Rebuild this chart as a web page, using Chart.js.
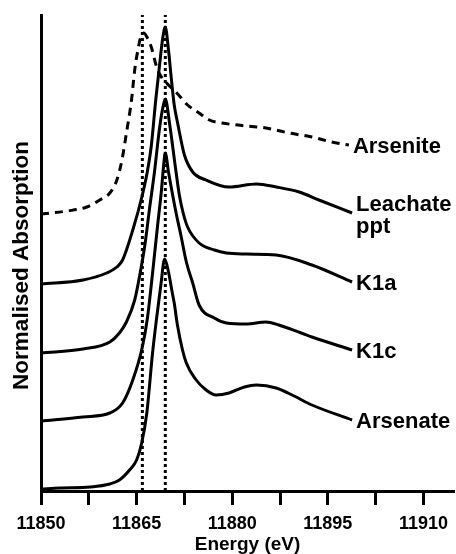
<!DOCTYPE html>
<html>
<head>
<meta charset="utf-8">
<script src="https://cdn.jsdelivr.net/npm/chart.js@4.4.1/dist/chart.umd.min.js"></script>
<style>
  html, body { margin: 0; padding: 0; background: #fff; }
  canvas { display: block; }
</style>
</head>
<body>
<canvas id="xanes" width="456" height="554"></canvas>
<script>
// As K-edge XANES, spectra stacked with an offset (arbitrary normalised units)
const arseniteE = [11850.0, 11854.1, 11857.2, 11859.2, 11860.8, 11861.9, 11862.7, 11863.4, 11864.2, 11864.7, 11865.2, 11865.6, 11866.1, 11866.7, 11867.3, 11868.0, 11868.6, 11869.7, 11871.3, 11873.0, 11874.8, 11876.4, 11878.4, 11882.2, 11885.3, 11888.9, 11892.5, 11895.6, 11898.3];
const arseniteA = [2.77, 2.80, 2.84, 2.91, 2.98, 3.11, 3.31, 3.58, 3.91, 4.21, 4.41, 4.53, 4.58, 4.53, 4.44, 4.27, 4.17, 4.08, 3.98, 3.86, 3.78, 3.71, 3.68, 3.65, 3.63, 3.58, 3.54, 3.49, 3.46];

const leachateE = [11850.0, 11856.6, 11860.3, 11861.9, 11862.8, 11864.4, 11865.9, 11866.7, 11867.3, 11868.0, 11868.6, 11869.1, 11869.5, 11870.0, 11870.5, 11870.9, 11871.4, 11872.5, 11873.8, 11875.9, 11879.5, 11883.8, 11886.9, 11890.5, 11893.6, 11898.8];
const leachateA = [2.07, 2.11, 2.18, 2.24, 2.31, 2.61, 2.96, 3.20, 3.45, 3.91, 4.26, 4.53, 4.64, 4.41, 4.09, 3.86, 3.69, 3.36, 3.19, 3.11, 3.04, 3.07, 3.04, 2.99, 2.91, 2.78];

const k1aE = [11850.0, 11856.6, 11860.8, 11862.3, 11863.4, 11864.7, 11865.5, 11866.3, 11867.0, 11867.8, 11868.6, 11869.1, 11869.5, 11870.2, 11871.1, 11871.7, 11872.3, 11873.0, 11874.8, 11877.2, 11879.1, 11882.2, 11886.9, 11892.5, 11898.8];
const k1aA = [1.38, 1.42, 1.49, 1.58, 1.69, 1.91, 2.16, 2.46, 2.81, 3.19, 3.63, 3.83, 3.92, 3.66, 3.23, 2.96, 2.78, 2.64, 2.48, 2.41, 2.38, 2.37, 2.36, 2.26, 2.09];

const k1cE = [11850.0, 11856.6, 11860.8, 11862.8, 11864.4, 11865.9, 11866.7, 11867.3, 11867.8, 11868.3, 11868.9, 11869.2, 11869.5, 11870.0, 11871.1, 11872.0, 11872.8, 11873.8, 11874.8, 11877.2, 11879.1, 11882.2, 11885.3, 11887.3, 11892.5, 11898.8];
const k1cA = [0.70, 0.74, 0.78, 0.88, 1.11, 1.44, 1.73, 2.06, 2.36, 2.66, 3.01, 3.23, 3.38, 3.19, 2.81, 2.54, 2.29, 2.08, 1.86, 1.73, 1.68, 1.67, 1.69, 1.66, 1.54, 1.41];

const arsenateE = [11850.0, 11853.0, 11857.7, 11860.8, 11862.3, 11863.9, 11865.0, 11865.8, 11866.6, 11867.5, 11868.1, 11868.8, 11869.4, 11870.0, 11870.6, 11870.9, 11871.4, 11872.2, 11872.8, 11874.1, 11875.9, 11877.5, 11879.5, 11881.9, 11883.8, 11886.9, 11889.7, 11892.5, 11898.8];
const arsenateA = [0.02, 0.03, 0.04, 0.07, 0.11, 0.21, 0.31, 0.48, 0.78, 1.38, 1.71, 2.06, 2.32, 2.19, 1.98, 1.88, 1.66, 1.41, 1.28, 1.13, 1.01, 0.96, 0.98, 1.04, 1.06, 1.03, 0.95, 0.86, 0.71];

// edge positions marked by the dotted lines (As(III) and As(V) white lines)
const markerEnergies = [11865.9, 11869.5];

const xTicks = [11850, 11857.5, 11865, 11872.5, 11880, 11887.5, 11895, 11902.5, 11910];
const xTickLabels = ['11850', '', '11865', '', '11880', '', '11895', '', '11910'];
const xMin = 11850, xMax = 11914.8;
const yMin = 0, yMax = 4.76;

const FONT = '"Liberation Sans", Arial, sans-serif';
Chart.defaults.font.family = FONT;
Chart.defaults.color = '#000';

const pts = (xs, ys) => xs.map((x, i) => ({ x: x, y: ys[i] }));

const spectrum = (label, xs, ys, dash) => ({
  label: label,
  endLabel: label,
  data: pts(xs, ys),
  borderColor: '#000',
  borderWidth: 3,
  borderDash: dash || [],
  pointRadius: 0,
  cubicInterpolationMode: 'monotone',
  fill: false
});

const markers = markerEnergies.map(e => ({
  label: 'edge ' + e,
  data: [{ x: e, y: yMin }, { x: e, y: yMax }],
  borderColor: '#000',
  borderWidth: 3,
  borderDash: [3, 3],
  pointRadius: 0
}));

const endLabels = {
  id: 'endLabels',
  afterDatasetsDraw(chart) {
    const ctx = chart.ctx;
    const xs = chart.scales.x, ys = chart.scales.y;
    ctx.save();
    ctx.font = 'bold 22px ' + FONT;
    ctx.fillStyle = '#000';
    ctx.textAlign = 'left';
    ctx.textBaseline = 'middle';
    chart.data.datasets.forEach(ds => {
      if (!ds.endLabel) return;
      const last = ds.data[ds.data.length - 1];
      const px = xs.getPixelForValue(last.x) + 4;
      const py = ys.getPixelForValue(last.y);
      const lines = ds.endLabel.split('\n');
      lines.forEach((t, i) => {
        ctx.fillText(t, px, py + 2 - (lines.length - 1) * 10 + i * 22);
      });
    });
    ctx.restore();
  }
};

new Chart(document.getElementById('xanes'), {
  type: 'line',
  data: {
    datasets: [
      spectrum('Arsenite', arseniteE, arseniteA, [8, 6]),
      spectrum('Leachate\nppt', leachateE, leachateA),
      spectrum('K1a', k1aE, k1aA),
      spectrum('K1c', k1cE, k1cA),
      spectrum('Arsenate', arsenateE, arsenateA)
    ].concat(markers)
  },
  options: {
    responsive: false,
    animation: false,
    layout: { padding: { top: 15, right: 0, bottom: 0, left: 0 } },
    plugins: {
      legend: { display: false },
      tooltip: { enabled: false },
      title: { display: false }
    },
    scales: {
      x: {
        type: 'linear',
        min: xMin,
        max: xMax,
        afterBuildTicks: (scale) => {
          scale.ticks = xTicks.map(v => ({ value: v }));
        },
        afterFit: (scale) => { scale.height = 63; },
        ticks: {
          autoSkip: false,
          maxRotation: 0,
          padding: 8,
          font: { size: 18, weight: 'bold' },
          callback: (v) => xTickLabels[xTicks.indexOf(v)]
        },
        grid: {
          display: true,
          drawOnChartArea: false,
          drawTicks: true,
          tickLength: 14,
          tickWidth: 3,
          tickColor: '#000'
        },
        border: { display: true, color: '#000', width: 3 },
        title: {
          display: true,
          text: 'Energy (eV)',
          font: { size: 19, weight: 'bold', lineHeight: 1 },
          padding: { top: 0, bottom: 0 }
        }
      },
      y: {
        type: 'linear',
        min: yMin,
        max: yMax,
        afterFit: (scale) => { scale.width = 41; },
        ticks: { display: false },
        grid: { display: false },
        border: { display: true, color: '#000', width: 3 },
        title: {
          display: true,
          // trailing spaces nudge the rotated title down to where the original sits
          text: 'Normalised Absorption    ',
          font: { size: 22.5, weight: 'bold', lineHeight: 1.2 },
          padding: { top: 8, bottom: 0 }
        }
      }
    }
  },
  plugins: [endLabels]
});
</script>
</body>
</html>
